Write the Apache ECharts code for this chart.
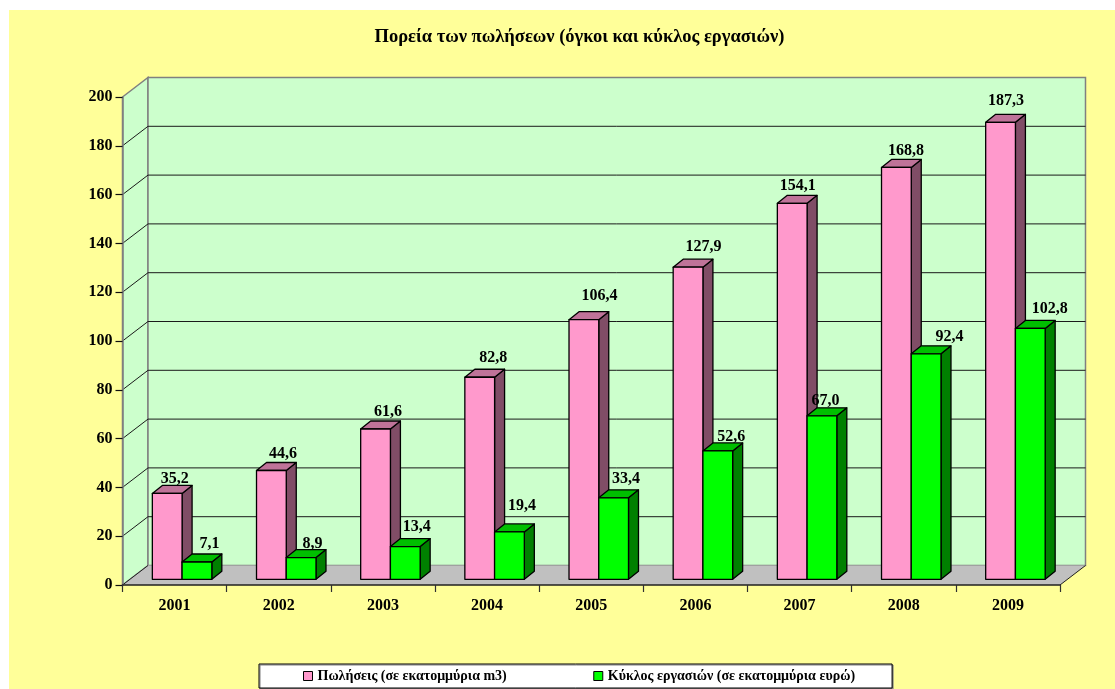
<!DOCTYPE html>
<html>
<head>
<meta charset="utf-8">
<style>html,body{margin:0;padding:0;background:#fff}#c{width:1115px;height:689px}</style>
<script src="https://cdn.jsdelivr.net/npm/echarts@6/dist/echarts.min.js"></script>
</head>
<body>
<div id="c"></div>
<script>
const titleText = 'Πορεία των πωλήσεων (όγκοι και κύκλος εργασιών)';
const years = ['2001','2002','2003','2004','2005','2006','2007','2008','2009'];
const salesName = 'Πωλήσεις (σε εκατομμύρια m3)';
const turnoverName = 'Κύκλος εργασιών (σε εκατομμύρια ευρώ)';
const salesValues = [35.2,44.6,61.6,82.8,106.4,127.9,154.1,168.8,187.3];
const turnoverValues = [7.1,8.9,13.4,19.4,33.4,52.6,67.0,92.4,102.8];
const yTicks = [0,20,40,60,80,100,120,140,160,180,200];

// Layout only: hand placement of the value labels relative to each bar's front top edge
const salesLabelDX = [7,11,12,13,15,15,5,9,5];
const salesLabelDY = [-15,-17,-18,-20,-24,-21,-18,-17,-22];
const turnLabelDX = [12,11,11,12,12,13,3,23,19];
const turnLabelDY = [-19,-14,-20,-27,-19,-15,-15,-17,-20];

const FONT = '"Liberation Serif","Times New Roman",serif';
const WALL_DX = 25.5, WALL_DY = 19.5;     // depth of the 3D box
const BAR_DX = 10, BAR_DY = 8;            // depth of a bar
const BAR_SHIFT_X = 7.5, BAR_SHIFT_Y = 5.7; // bars stand mid-way in the box
const BAR_FRACTION = 0.2855;              // one bar width / category width

function renderWalls(params, api) {
  const r = params.coordSys;
  const x0 = r.x, x1 = r.x + r.width;
  const yb = api.coord([0, 0])[1], yt = api.coord([0, 200])[1];
  const dx = WALL_DX, dy = WALL_DY;
  const poly = (pts, fill, stroke, lw) => ({
    type: 'polygon', shape: { points: pts },
    style: { fill: fill, stroke: stroke || null, lineWidth: lw || 0 }
  });
  return { type: 'group', children: [
    poly([[x0,yt],[x0+dx,yt-dy],[x0+dx,yb-dy],[x0,yb]], '#ccffcc', '#808080', 1.5),
    poly([[x0+dx,yt-dy],[x1+dx,yt-dy],[x1+dx,yb-dy],[x0+dx,yb-dy]], '#ccffcc', '#808080', 1.5),
    poly([[x0,yb],[x0+dx,yb-dy],[x1+dx,yb-dy],[x1,yb]], '#c0c0c0', null, 0),
    { type: 'polyline', shape: { points: [[x0,yb],[x0+dx,yb-dy]] }, style: { stroke: '#202020', lineWidth: 1, fill: null } },
    { type: 'polyline', shape: { points: [[x1,yb],[x1+dx,yb-dy]] }, style: { stroke: '#202020', lineWidth: 1, fill: null } }
  ]};
}

function renderGrid(params, api) {
  const v = api.value(0);
  if (v === 0 || v === 200) return null;
  const r = params.coordSys;
  const y = api.coord([0, v])[1];
  const x0 = r.x, x1 = r.x + r.width;
  return { type: 'polyline', shape: { points: [[x0,y],[x0+WALL_DX,y-WALL_DY],[x1+WALL_DX,y-WALL_DY]] },
    style: { stroke: '#1a1a1a', lineWidth: 1, fill: null } };
}

function barRenderer(slot, front, side, top) {
  return function (params, api) {
    const i = api.value(0), v = api.value(1);
    const w = api.size([1, 0])[0] * BAR_FRACTION;
    const cx = api.coord([i, 0])[0] + BAR_SHIFT_X;
    const xl = cx + (slot === 0 ? -w : 0), xr = xl + w;
    const yb = api.coord([i, 0])[1] - BAR_SHIFT_Y;
    const yt = api.coord([i, v])[1] - BAR_SHIFT_Y;
    const dx = BAR_DX, dy = BAR_DY;
    const st = f => ({ fill: f, stroke: '#000', lineWidth: 1.3, lineJoin: 'round' });
    return { type: 'group', children: [
      { type: 'polygon', shape: { points: [[xr,yb],[xr+dx,yb-dy],[xr+dx,yt-dy],[xr,yt]] }, style: st(side) },
      { type: 'polygon', shape: { points: [[xl,yt],[xl+dx,yt-dy],[xr+dx,yt-dy],[xr,yt]] }, style: st(top) },
      { type: 'rect', shape: { x: xl, y: yt, width: w, height: yb - yt }, style: st(front) }
    ]};
  };
}

function labelRenderer(slot, ndx, ndy) {
  return function (params, api) {
    const i = api.value(0), v = api.value(1);
    const w = api.size([1, 0])[0] * BAR_FRACTION;
    const cx = api.coord([i, 0])[0] + BAR_SHIFT_X + (slot === 0 ? -w / 2 : w / 2);
    const yt = api.coord([i, v])[1] - BAR_SHIFT_Y;
    return { type: 'text', style: {
      text: v.toFixed(1).replace('.', ','),
      x: cx + ndx[i] + 0.5, y: yt + ndy[i] + 0.5,
      align: 'center', verticalAlign: 'middle',
      font: 'bold 16px ' + FONT, fill: '#000'
    }};
  };
}

const pairs = a => a.map((v, i) => [i, v]);

const chart = echarts.init(document.getElementById('c'), null, { renderer: 'canvas' });
chart.setOption({
  animation: false,
  backgroundColor: '#ffffff',
  graphic: [{ type: 'rect', z: -10, silent: true, shape: { x: 9, y: 10, width: 1106, height: 679 }, style: { fill: '#ffff99' } }],
  title: { text: titleText, left: 574.5, top: 23, textAlign: 'center',
    textStyle: { fontFamily: FONT, fontWeight: 'bold', fontSize: 18.5, color: '#000' } },
  grid: { left: 122.5, right: 1115 - 1060, top: 97, bottom: 689 - 585, containLabel: false },
  xAxis: { type: 'category', data: years, z: 5,
    axisLine: { lineStyle: { color: '#202020', width: 1.5 } },
    axisTick: { show: true, length: 7, lineStyle: { color: '#303030', width: 1.2 } },
    axisLabel: { margin: 13, fontFamily: FONT, fontWeight: 'bold', fontSize: 16, color: '#000' },
    splitLine: { show: false } },
  yAxis: { type: 'value', min: 0, max: 200, interval: 20, z: 5,
    axisLine: { show: true, lineStyle: { color: '#808080', width: 1.5 } },
    axisTick: { show: true, length: 7, lineStyle: { color: '#101010', width: 1.2 } },
    axisLabel: { margin: 10, padding: [6, 0, 0, 0], fontFamily: FONT, fontWeight: 'bold', fontSize: 16, color: '#000' },
    splitLine: { show: false } },
  legend: {
    data: [salesName, turnoverName], left: 259, top: 664, orient: 'horizontal',
    padding: [5, 37, 5, 44], itemGap: 86.5, itemWidth: 9, itemHeight: 9, icon: 'rect',
    backgroundColor: '#fff', borderColor: '#000', borderWidth: 1,
    shadowColor: '#808080', shadowBlur: 0, shadowOffsetX: 1, shadowOffsetY: 1,
    textStyle: { fontFamily: FONT, fontWeight: 'bold', fontSize: 14, color: '#000' },
    itemStyle: { borderColor: '#000', borderWidth: 1 }
  },
  series: [
    { type: 'custom', name: 'walls', z: 1, silent: true, data: [[0]], renderItem: renderWalls },
    { type: 'custom', name: 'grid', z: 1.5, silent: true, data: yTicks.map(v => [v]), renderItem: renderGrid, encode: { y: 0 } },
    { type: 'custom', name: salesName, z: 3, data: pairs(salesValues), encode: { x: 0, y: 1 },
      itemStyle: { color: '#ff99cc' }, renderItem: barRenderer(0, '#ff99cc', '#804d66', '#bf7399') },
    { type: 'custom', name: turnoverName, z: 4, data: pairs(turnoverValues), encode: { x: 0, y: 1 },
      itemStyle: { color: '#00ff00' }, renderItem: barRenderer(1, '#00ff00', '#008000', '#00bf00') },
    { type: 'custom', name: 'salesLabels', z: 6, silent: true, data: pairs(salesValues), encode: { x: 0, y: 1 },
      renderItem: labelRenderer(0, salesLabelDX, salesLabelDY) },
    { type: 'custom', name: 'turnoverLabels', z: 6, silent: true, data: pairs(turnoverValues), encode: { x: 0, y: 1 },
      renderItem: labelRenderer(1, turnLabelDX, turnLabelDY) }
  ]
});
</script>
</body>
</html>
